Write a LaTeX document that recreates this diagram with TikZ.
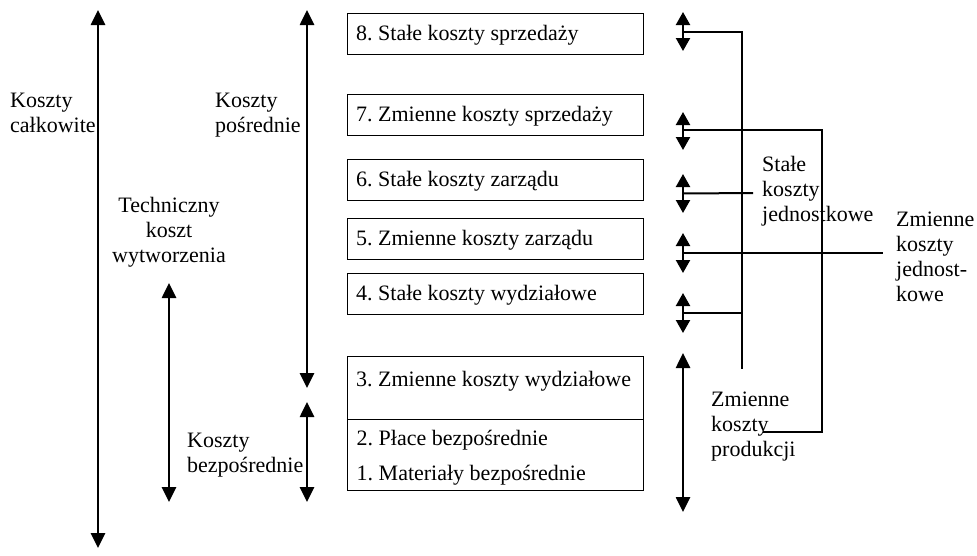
\documentclass[tikz,border=0pt]{standalone}
\usepackage{fontspec}
\setmainfont{Liberation Serif}
\usepackage{tikz}
\usetikzlibrary{arrows.meta,positioning,calc}
\newcommand{\diagfont}{\fontsize{22}{24.7}\selectfont\frenchspacing}

\begin{document}
\begin{tikzpicture}[x=1pt,y=-1pt,
  cbox/.style={rectangle,draw,line width=1.3pt,minimum width=296pt,minimum height=41pt,
    inner ysep=0pt,inner xsep=8.5pt,text width=279pt,align=flush left,anchor=north west,
    text height=17pt,text depth=4pt,font=\diagfont},
  lbl/.style={align=left,anchor=base west,inner sep=0pt,font=\diagfont},
  arr/.style={{Triangle[length=15pt,width=14pt]}-{Triangle[length=15pt,width=14pt]},line width=2.6pt},
  sarr/.style={{Triangle[length=13pt,width=14pt]}-{Triangle[length=13pt,width=14pt]},line width=2.2pt},
  link/.style={line width=2pt}
]
\useasboundingbox (0,0) rectangle (977,555);

\node[cbox] (b8) at (347,13) {8. Stałe koszty sprzedaży};
\node[cbox] (b7) at (347,94) {7. Zmienne koszty sprzedaży};
\node[cbox] (b6) at (347,159) {6. Stałe koszty zarządu};
\node[cbox] (b5) at (347,218) {5. Zmienne koszty zarządu};
\node[cbox] (b4) at (347,273) {4. Stałe koszty wydziałowe};
\node[cbox,minimum height=63pt,text depth=20pt] (b3) at (347,356) {3. Zmienne koszty wydziałowe};
\node[cbox,minimum height=71pt] (b21) at (347,419) {};
\node[lbl] (t2) at ($(b21.north west)+(9.5,26)$) {2. Płace bezpośrednie};
\node[lbl] (t1) at ($(b21.north west)+(9.5,61)$) {1. Materiały bezpośrednie};

\node[lbl] (kc) at (10,132) {Koszty\\całkowite};
\node[lbl] (kp) at (215,132) {Koszty\\pośrednie};
\node[lbl,align=center,anchor=base] (tkw) at (169,262) {Techniczny\\koszt\\wytworzenia};
\node[lbl] (kb) at (187,472) {Koszty\\bezpośrednie};
\node[lbl] (skj) at (762,221) {Stałe\\koszty\\jednostkowe};
\node[lbl] (zkj) at (896,301) {Zmienne\\koszty\\jednost-\\kowe};
\node[lbl] (zkp) at (711,456) {Zmienne\\koszty\\produkcji};

\coordinate (kc1) at (98,10);   \coordinate (kc2) at (98,548);
\coordinate (kp1) at (307,10);  \coordinate (kp2) at (307,388);
\coordinate (tk1) at (169,283); \coordinate (tk2) at (169,502);
\coordinate (kb1) at (307,402); \coordinate (kb2) at (307,502);
\draw[arr](kc1)--(kc2);\draw[arr](kp1)--(kp2);
\draw[arr](tk1)--(tk2);\draw[arr](kb1)--(kb2);

\coordinate (a8t) at (683,12);  \coordinate (a8b) at (683,51);
\coordinate (a7t) at (683,112); \coordinate (a7b) at (683,150);
\coordinate (a6t) at (683,174); \coordinate (a6b) at (683,213);
\coordinate (a5t) at (683,233); \coordinate (a5b) at (683,273);
\coordinate (a4t) at (683,293); \coordinate (a4b) at (683,333);
\coordinate (a3t) at (683,353); \coordinate (a3b) at (683,512);
\draw[sarr](a8t)--(a8b);\draw[sarr](a7t)--(a7b);\draw[sarr](a6t)--(a6b);
\draw[sarr](a5t)--(a5b);\draw[sarr](a4t)--(a4b);
\draw[arr](a3t)--(a3b);

\coordinate (m8) at ($(a8t)!0.5!(a8b)$);
\coordinate (m7) at (683,130);
\coordinate (m6) at ($(a6t)!0.5!(a6b)$);
\coordinate (m5) at ($(a5t)!0.5!(a5b)$);
\coordinate (m4) at ($(a4t)!0.5!(a4b)$);
\coordinate (sk) at (742,369);
\coordinate (zk) at (822,432);
\coordinate (zp) at (763,432);
\coordinate (s6) at (753,193);
\coordinate (z5) at (883,253);
\draw[link](m8)-|(sk);
\draw[link](m4)--(m4-|sk);
\draw[link](m7)-|(zk)--(zp);
\draw[link](m6)--(s6);
\draw[link](m5)--(z5);
\end{tikzpicture}
\end{document}
